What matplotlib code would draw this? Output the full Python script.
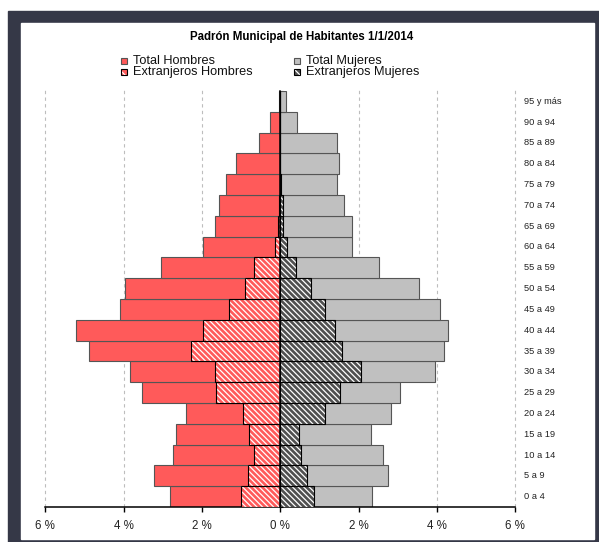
import matplotlib
matplotlib.use('Agg')
import matplotlib.pyplot as plt
from matplotlib.patches import Rectangle
from matplotlib.transforms import blended_transform_factory

plt.rcParams['font.family'] = ['Liberation Sans', 'DejaVu Sans']
plt.rcParams['hatch.linewidth'] = 0.9

# edades, de abajo hacia arriba
grupos = ['0 a 4', '5 a 9', '10 a 14', '15 a 19', '20 a 24', '25 a 29', '30 a 34',
          '35 a 39', '40 a 44', '45 a 49', '50 a 54', '55 a 59', '60 a 64',
          '65 a 69', '70 a 74', '75 a 79', '80 a 84', '85 a 89', '90 a 94', '95 y más']

# porcentajes sobre la poblacion total
hombres_total = [2.82, 3.23, 2.75, 2.67, 2.40, 3.54, 3.83, 4.89, 5.21, 4.10,
                 3.97, 3.04, 1.98, 1.66, 1.56, 1.39, 1.13, 0.54, 0.26, 0.04]
hombres_ext = [1.01, 0.82, 0.66, 0.79, 0.95, 1.63, 1.67, 2.27, 1.98, 1.32,
               0.89, 0.66, 0.14, 0.05, 0.03, 0.01, 0.0, 0.0, 0.0, 0.0]
mujeres_total = [2.35, 2.74, 2.61, 2.31, 2.82, 3.06, 3.96, 4.17, 4.28, 4.09,
                 3.53, 2.53, 1.84, 1.84, 1.62, 1.46, 1.51, 1.46, 0.43, 0.14]
mujeres_ext = [0.85, 0.67, 0.54, 0.49, 1.13, 1.52, 2.05, 1.57, 1.39, 1.13,
               0.78, 0.41, 0.16, 0.07, 0.07, 0.02, 0.0, 0.0, 0.0, 0.0]

ticks_x = [-6, -4, -2, 0, 2, 4, 6]
ticks_x_labels = ['6 %', '4 %', '2 %', '0 %', '2 %', '4 %', '6 %']

ROJO = '#ff5a5a'
GRIS = '#c0c0c0'
GRIS_OSC = '#505050'
HATCH = '\\' * 6

W, H = 599, 542
fig = plt.figure(figsize=(W / 100, H / 100), dpi=100)

# marco oscuro + panel blanco
fig.patches.append(Rectangle((8 / W, 0), (W - 8) / W, (H - 11) / H,
                             transform=fig.transFigure, color='#353847', zorder=-2))
fig.patches.append(Rectangle((21 / W, 3 / H), (594 - 21) / W, (539 - 23) / H,
                             transform=fig.transFigure, color='white', zorder=-1))

ax = fig.add_axes([45.3 / W, (H - 507) / H, 470 / W, (507 - 91) / H])
ax.set_zorder(1)
ax.patch.set_alpha(0)

y = list(range(len(grupos)))
neg_ht = [-v for v in hombres_total]
neg_he = [-v for v in hombres_ext]

for gx in [-6, -4, -2, 2, 4, 6]:
    ax.axvline(gx, ymax=1.008, color='#bdbdbd', lw=0.8, dashes=(3, 3), zorder=0,
               clip_on=False)

ax.barh(y, neg_ht, height=1.0, color=ROJO, edgecolor='#555555', lw=0.8, zorder=2)
ax.barh(y, mujeres_total, height=1.0, color=GRIS, edgecolor='#555555', lw=0.8, zorder=2)

# extranjeros: relleno con rayado blanco y borde negro
ax.barh(y, neg_he, height=1.0, color=ROJO, edgecolor='white', hatch=HATCH, lw=0, zorder=3)
ax.barh(y, neg_he, height=1.0, fill=False, edgecolor='black', lw=0.8, zorder=3)
ax.barh(y, mujeres_ext, height=1.0, color=GRIS_OSC, edgecolor='white', hatch=HATCH, lw=0, zorder=3)
ax.barh(y, mujeres_ext, height=1.0, fill=False, edgecolor='black', lw=0.8, zorder=3)

ax.set_xlim(-6, 6)
ax.set_ylim(-0.5, len(grupos) - 0.5)

for s in ['top', 'right']:
    ax.spines[s].set_visible(False)
ax.spines['left'].set_position(('data', 0))
ax.spines['left'].set_zorder(5)
ax.spines['left'].set_linewidth(1.1)
ax.spines['bottom'].set_linewidth(1.1)

ax.set_yticks([v - 0.5 for v in range(len(grupos) + 1)])
ax.set_yticklabels([])
ax.tick_params(axis='y', direction='in', length=2, width=0.8)

ax.set_xticks(ticks_x)
ax.set_xticklabels(ticks_x_labels, fontsize=8.3, color='#222222')
ax.tick_params(axis='x', direction='out', length=3.5, width=1, pad=6)

tr = blended_transform_factory(ax.transAxes, ax.transData)
for i, g in enumerate(grupos):
    ax.text((524 - 45.3) / 470, i, g, transform=tr, ha='left', va='center',
            fontsize=6.7, color='#222222')

fig.text(301.7 / W, 1 - 36.7 / H, 'Padrón Municipal de Habitantes 1/1/2014',
         ha='center', va='center', fontsize=8.3, fontweight='bold')

# leyenda manual
leyenda = [
    ('Total Hombres', 121, 61.3, ROJO, '#555555', None),
    ('Extranjeros Hombres', 121, 71.8, ROJO, 'black', ROJO),
    ('Total Mujeres', 294, 61.3, GRIS, '#555555', None),
    ('Extranjeros Mujeres', 294, 71.8, GRIS_OSC, 'black', GRIS_OSC),
]
sq = 6
for texto, lx, ly, fc, ec, hfc in leyenda:
    x0 = lx / W
    y0 = 1 - (ly + sq / 2) / H
    if hfc is not None:
        fig.patches.append(Rectangle((x0, y0), sq / W, sq / H, transform=fig.transFigure,
                                     facecolor=hfc, edgecolor='white', hatch='\\\\\\\\',
                                     lw=0, zorder=3))
        fig.patches.append(Rectangle((x0, y0), sq / W, sq / H, transform=fig.transFigure,
                                     fill=False, edgecolor=ec, lw=0.8, zorder=4))
    else:
        fig.patches.append(Rectangle((x0, y0), sq / W, sq / H, transform=fig.transFigure,
                                     facecolor=fc, edgecolor=ec, lw=0.8, zorder=3))
    fig.text((lx + 12) / W, 1 - ly / H, texto, ha='left', va='center',
             fontsize=9.2, color='#111111')

fig.savefig('out.png', dpi=100)
